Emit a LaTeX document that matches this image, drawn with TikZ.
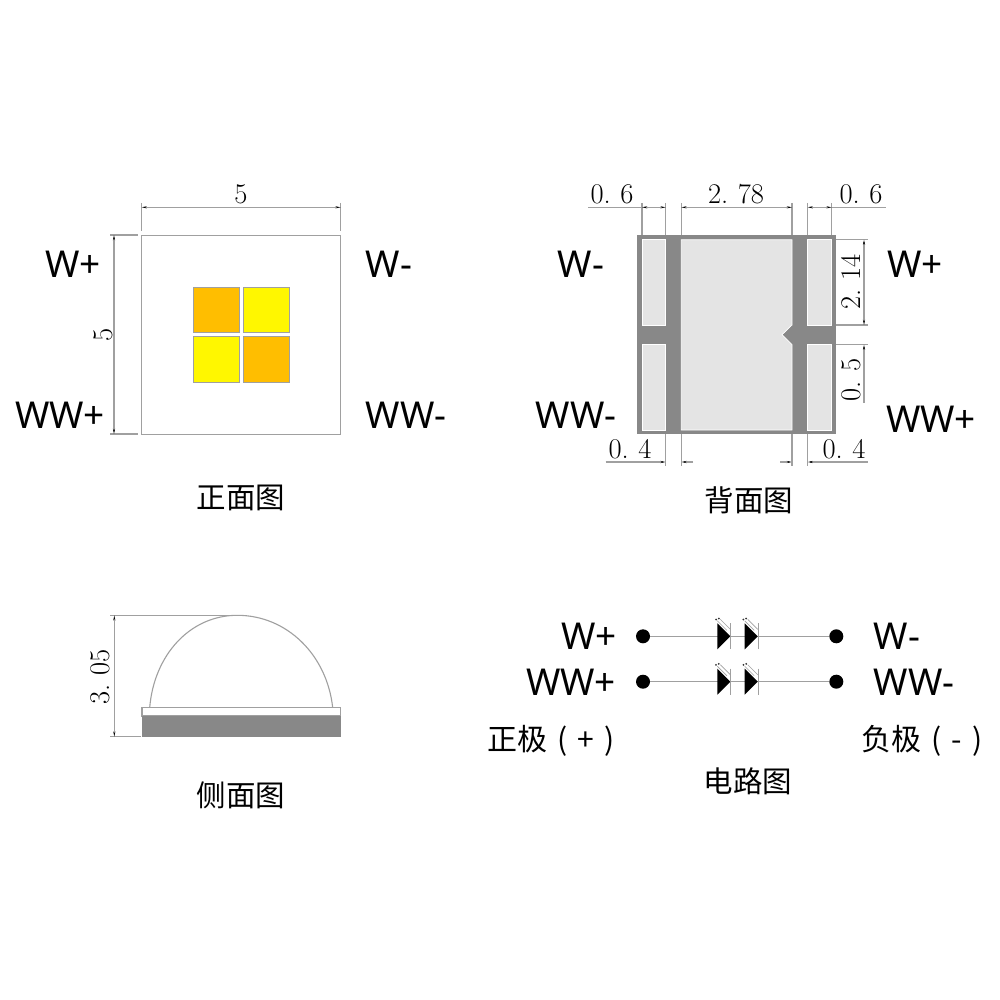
\documentclass[tikz,border=0pt]{standalone}
\usepackage{fontspec}
\setmainfont{Noto Sans}
\newfontfamily\cjkfont{Noto Sans CJK SC}
\newfontfamily\dimfont{Latin Modern Roman}
\usetikzlibrary{arrows.meta}
\definecolor{dimgray}{HTML}{A0A0A0}
\definecolor{darkpad}{HTML}{888888}
\definecolor{lightpad}{HTML}{E4E4E4}
\definecolor{chipor}{HTML}{FFBE00}
\definecolor{chipye}{HTML}{FFF700}
\tikzset{
  outline/.style={draw=dimgray,line width=1.1pt},
  extline/.style={draw=dimgray,line width=1.1pt},
  dimline/.style={draw=dimgray,line width=1.1pt},
  dimboth/.style={dimline,{Stealth[length=5pt,width=2pt,black]}-{Stealth[length=5pt,width=2pt,black]}},
  dimend/.style={dimline,-{Stealth[length=5pt,width=2pt,black]}},
  dimtext/.style={font=\dimfont\fontsize{28.5}{28.5}\selectfont,inner sep=0pt,text=black},
  lab/.style={font=\fontsize{37}{37}\selectfont,inner sep=0pt},
  captext/.style={font=\cjkfont\fontsize{29.5}{29.5}\selectfont,inner sep=0pt},
  pol/.style={font=\cjkfont\fontsize{30}{30}\selectfont,inner sep=0pt},
  chip/.style={draw=dimgray,line width=0.8pt},
  pad/.style={fill=lightpad,draw=white,line width=0.7pt},
  wire/.style={draw=dimgray,line width=1.2pt},
  dot/.style={circle,fill=black,inner sep=0pt,minimum size=14pt},
  ledbar/.style={draw=dimgray,line width=1.2pt},
  ray/.style={draw=dimgray,line width=0.6pt},
}
\begin{document}
\begin{tikzpicture}[x=1pt,y=-1pt]
\useasboundingbox[fill=white] (0,0) rectangle (1000,1000);

% ---- front view
\node[outline,draw,minimum width=199pt,minimum height=199.5pt,inner sep=0pt,anchor=north west] (front) at (141.2,234.8) {};
\fill[chipor] (193.7,287) rectangle (239.7,332.7);
\draw[chip] (193.7,287) rectangle (239.7,332.7);
\fill[chipye] (243.3,287) rectangle (289.3,332.7);
\draw[chip] (243.3,287) rectangle (289.3,332.7);
\fill[chipye] (193.7,336.7) rectangle (239.7,382.7);
\draw[chip] (193.7,336.7) rectangle (239.7,382.7);
\fill[chipor] (243.3,336.7) rectangle (289.3,382.7);
\draw[chip] (243.3,336.7) rectangle (289.3,382.7);
\coordinate (fa) at (141.7,207.3); \coordinate (fb) at (340.7,207.3);
\draw[extline] (141.7,203) -- (141.7,231.5);
\draw[extline] (340.7,203) -- (340.7,231.5);
\draw[dimboth] (fa) -- (fb);
\node[dimtext] (f5) at (241,194) {5};
\coordinate (fc) at (114,235); \coordinate (fd) at (114,434);
\draw[extline] (110,235) -- (138,235);
\draw[extline] (110,434) -- (138,434);
\draw[dimboth] (fc) -- (fd);
\node[dimtext,rotate=90] (f5b) at (103,335) {5};
\node[lab] (l1) at (73,264) {W+};
\node[lab] (l2) at (389,264) {W-};
\node[lab] (l3) at (60,415) {WW+};
\node[lab] (l4) at (406,415) {WW-};
\node[captext] (c1) at (241,498) {正面图};

% ---- back view
\fill[darkpad] (637.3,235) rectangle (836,434.3);
\draw[pad] (642,239.7) rectangle (665.7,325);
\draw[pad] (642,344.7) rectangle (665.7,430);
\draw[pad] (807.7,239.7) rectangle (831.7,325);
\draw[pad] (807.7,344.7) rectangle (831.7,430);
\draw[pad] (681.3,239.7) -- (792,239.7) -- (792,325) -- (782,334.7) -- (792,344.7) -- (792,430) -- (681.3,430) -- cycle;
% top dims
\draw[extline] (642,203) -- (642,235);
\draw[extline] (665.7,203) -- (665.7,235);
\draw[extline] (681.3,203) -- (681.3,235);
\draw[extline] (792,203) -- (792,235);
\draw[extline] (807.7,203) -- (807.7,235);
\draw[extline] (831.7,203) -- (831.7,235);
\coordinate (t0) at (588,207.3); \coordinate (t1) at (642,207.3); \coordinate (t2) at (665.7,207.3);
\coordinate (t3) at (681.3,207.3); \coordinate (t4) at (792,207.3);
\coordinate (t5) at (807.7,207.3); \coordinate (t6) at (831.7,207.3); \coordinate (t7) at (885.7,207.3);
\draw[dimline] (t0) -- (t1);
\draw[dimboth] (t1) -- (t2);
\draw[dimboth] (t3) -- (t4);
\draw[dimboth] (t5) -- (t6);
\draw[dimline] (t6) -- (t7);
\node[dimtext] (d1) at (612,194) {0.\,\,6};
\node[dimtext] (d2) at (736,194) {2.\,\,78};
\node[dimtext] (d3) at (861,194) {0.\,\,6};
% bottom dims
\coordinate (e1) at (665.7,434); \coordinate (e2) at (665.7,466);
\coordinate (e3) at (681.3,434); \coordinate (e4) at (681.3,466);
\coordinate (e5) at (792,434);   \coordinate (e6) at (792,466);
\coordinate (e7) at (807.7,434); \coordinate (e8) at (807.7,466);
\coordinate (b0) at (605.7,462); \coordinate (b1) at (665.7,462); \coordinate (b2) at (693,462); \coordinate (b3) at (681.3,462);
\coordinate (b4) at (780,462); \coordinate (b5) at (792,462); \coordinate (b6) at (867.7,462); \coordinate (b7) at (807.7,462);
\draw[dimend] (b0) -- (b1);
\draw[dimend] (b2) -- (b3);
\draw[dimend] (b4) -- (b5);
\draw[dimend] (b6) -- (b7);
\draw[extline] (e1) -- (e2);
\draw[extline] (e3) -- (e4);
\draw[extline] (e5) -- (e6);
\draw[extline] (e7) -- (e8);
\node[dimtext] (d4) at (630,449) {0.\,\,4};
\node[dimtext] (d5) at (844,449) {0.\,\,4};
% right dims
\draw[extline] (836,239.7) -- (868,239.7);
\draw[extline] (836,325) -- (868,325);
\draw[extline] (836,344.7) -- (868,344.7);
\coordinate (r1) at (864,239.7); \coordinate (r2) at (864,325); \coordinate (r3) at (864,344.7); \coordinate (r4) at (864,403);
\draw[dimboth] (r1) -- (r2);
\draw[dimline,{Stealth[length=5pt,width=2pt,black]}-] (r3) -- (r4);
\node[dimtext,rotate=90] (d6) at (851,282) {2.\,\,14};
\node[dimtext,rotate=90] (d7) at (851,380) {0.\,\,5};
\node[lab] (l5) at (581,264) {W-};
\node[lab] (l6) at (915,264) {W+};
\node[lab] (l7) at (576,415) {WW-};
\node[lab] (l8) at (931,419) {WW+};
\node[captext] (c2) at (749,500) {背面图};

% ---- side view
\draw[outline] (149.7,707.7) .. controls (154,655) and (190,615.3) .. (237.3,615.3)
  .. controls (287,615.3) and (327,655) .. (332.7,707.7);
\draw[outline] (142,707.7) rectangle (340.7,716);
\fill[darkpad] (142,716) rectangle (340.7,736.7);
\coordinate (s1) at (114.3,615.3); \coordinate (s2) at (114.3,736.7);
\draw[extline] (110,615.3) -- (237,615.3);
\draw[extline] (110,736.7) -- (141,736.7);
\draw[dimboth] (s1) -- (s2);
\node[dimtext,rotate=90] (d8) at (100,677) {3.\,\,05};
\node[captext] (c3) at (241,795) {侧面图};

% ---- circuit
\foreach \n/\y in {a/636.3,b/681.7}{
  \node[dot] (\n L) at (643,\y) {};
  \node[dot] (\n R) at (836.3,\y) {};
  \draw[wire] (\n L) -- (\n R);
  \foreach \bx in {717.3,744.7}{
    \fill[black] (\bx,\y-13) -- (\bx+13,\y) -- (\bx,\y+13) -- cycle;
    \draw[ledbar] (\bx+13.4,\y-13) -- (\bx+13.4,\y+13);
    \draw[ray] (\bx+3,\y-17) -- (\bx+13,\y-7);
    \draw[ray] (\bx+0,\y-15.5) -- (\bx+9.5,\y-6);
    \fill[black!80] (\bx+1.5,\y-17.8) circle (1pt);
    \fill[black!80] (\bx-1.3,\y-16.8) circle (1pt);
  }
}
\node[lab] (l9) at (589,636) {W+};
\node[lab] (l10) at (571,682) {WW+};
\node[lab] (l11) at (897,636) {W-};
\node[lab] (l12) at (914,682) {WW-};
\node[pol] (p1) at (551,741) {正极\,\,(\,\,+\,\,)};
\node[pol] (p2) at (922,741) {负极\,\,(\,\,-\,\,)};
\node[captext] (c4) at (748,781) {电路图};
\end{tikzpicture}
\end{document}
